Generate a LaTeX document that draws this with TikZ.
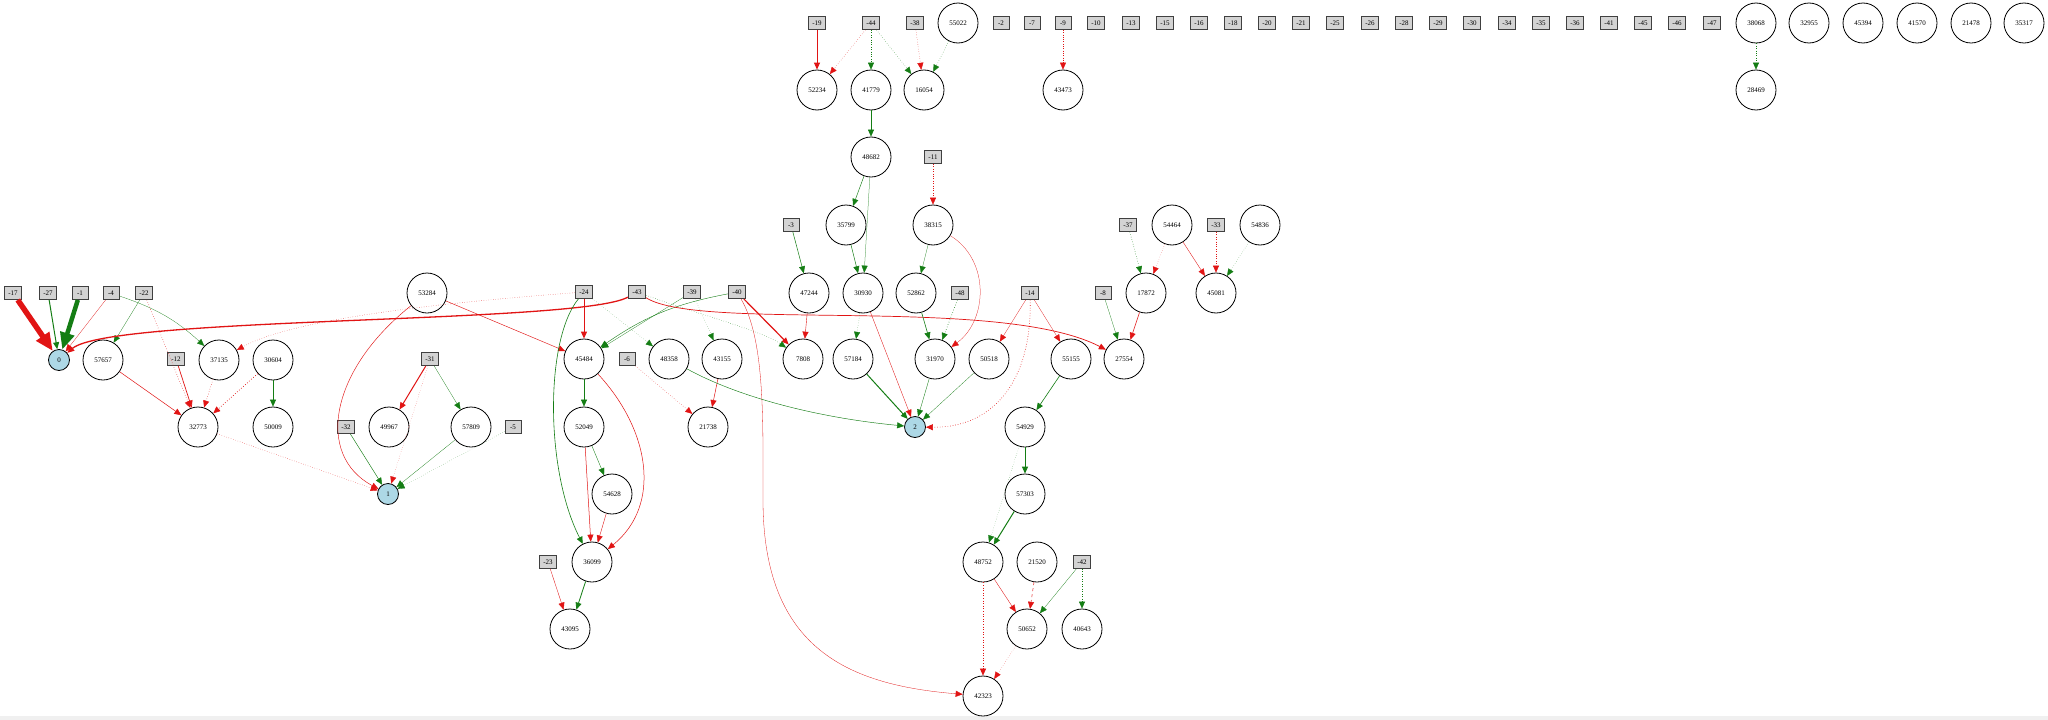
\documentclass[tikz,border=0pt]{standalone}
\usepackage{fontspec}
\setmainfont{Liberation Serif}
\usetikzlibrary{arrows.meta}
\definecolor{eg}{RGB}{20,125,20}
\definecolor{er}{RGB}{225,20,20}
\definecolor{boxgray}{RGB}{211,211,211}
\definecolor{outblue}{RGB}{173,216,230}
\newcommand\nodefont{\fontsize{7}{8}\selectfont}
\tikzset{
  hid/.style={circle,draw,line width=0.8pt,minimum size=40pt,inner sep=0pt,font=\nodefont},
  inp/.style={rectangle,draw=black!75,fill=boxgray,line width=0.9pt,minimum height=13pt,minimum width=16pt,inner xsep=4pt,inner ysep=0pt,font=\nodefont},
  outn/.style={circle,draw,fill=outblue,line width=0.8pt,minimum size=21pt,inner sep=0pt,font=\nodefont},
  ep/.style={draw=eg,-{Triangle[length=7pt,width=6pt,fill=eg]}},
  en/.style={draw=er,-{Triangle[length=7pt,width=6pt,fill=er]}},
  lw/.style={line width=#1pt},
  dis/.style={dotted},
}
\begin{document}
\begin{tikzpicture}[x=1pt,y=-1pt]
\useasboundingbox (0,0) rectangle (2048,720);
\fill[white] (0,0) rectangle (2048,720);
\fill[black!6] (0,716) rectangle (2048,720);
% inputs
\foreach \n/\x/\y in {17/13/293,27/48/293,1/80/293,4/111/293,22/144/293,12/176/359,31/430/359,32/346/427,
  24/584/292,43/637/292,39/692/292,40/737/292,6/627/359,5/513/427,23/548/562,
  19/817/23,44/871/23,38/915/23,2/1001/23,7/1032/23,9/1063/23,10/1096/23,13/1131/23,15/1165/23,16/1199/23,18/1233/23,
  20/1267/23,21/1301/23,25/1335/23,26/1370/23,28/1404/23,29/1438/23,30/1472/23,34/1507/23,35/1541/23,36/1575/23,
  41/1609/23,45/1643/23,46/1677/23,47/1712/23,11/933/157,3/791/225,37/1128/225,33/1216/225,48/960/293,14/1030/293,
  8/1103/293,42/1082/562}
  \node[inp] (m\n) at (\x,\y) {-\n};
% hidden
\foreach \n/\x/\y in {57657/103/360,37135/219/360,30604/273/360,32773/198/427,50009/273/427,53284/427/293,
  49967/389/427,57809/471/427,45484/584/359,48358/669/359,43155/722/359,7808/803/359,47244/809/293,
  52049/584/427,21738/708/427,54628/612/494,36099/592/562,43095/570/629,52234/817/90,41779/871/90,
  16054/924/90,55022/958/23,43473/1063/90,48682/871/157,35799/846/225,38315/933/225,54464/1172/225,
  54836/1260/225,30930/863/293,52862/916/293,17872/1146/293,45081/1216/293,57184/853/359,31970/935/359,
  50518/989/359,55155/1071/359,27554/1124/359,54929/1025/427,57303/1025/494,48752/983/562,21520/1037/562,
  50652/1027/629,40643/1082/629,42323/983/696,38068/1756/23,32955/1809/23,45394/1863/23,41570/1917/23,
  21478/1971/23,35317/2024/23,28469/1756/90}
  \node[hid] (n\n) at (\x,\y) {\n};
% outputs
\node[outn] (o0) at (59,360) {0};
\node[outn] (o1) at (388,494) {1};
\node[outn] (o2) at (915,427) {2};
% edges
\draw[draw=er,lw=5.5,-{Triangle[length=18pt,width=15pt,fill=er]}] (m17) -- (o0);
\draw[draw=eg,lw=4.5,-{Triangle[length=17pt,width=14pt,fill=eg]}] (m1) -- (o0);
\draw[ep,lw=1] (m27) -- (o0);
\draw[en,lw=0.25] (m4) -- (o0);
\draw[ep,lw=0.25] (m4) to[bend left=12] (n37135);
\draw[ep,lw=0.25] (m22) -- (n57657);
\draw[en,lw=0.5,dis] (m22) -- (n32773);
\draw[en,lw=1.3] (m43) .. controls (580,324) and (110,316) .. (o0);
\draw[en,lw=0.4,dis] (m24) .. controls (480,300) and (300,315) .. (n37135);
\draw[en,lw=0.5] (n57657) -- (n32773);
\draw[en,lw=0.7] (m12) -- (n32773);
\draw[en,lw=0.5,dis] (n37135) -- (n32773);
\draw[en,lw=0.7,dis] (n30604) -- (n32773);
\draw[ep,lw=0.6] (n30604) -- (n50009);
\draw[en,lw=0.4,dis] (n32773) -- (o1);
\draw[en,lw=0.45] (n53284) .. controls (330,370) and (315,455) .. (o1);
\draw[en,lw=0.45] (n53284) -- (n45484);
\draw[en,lw=1] (m31) -- (n49967);
\draw[ep,lw=0.25] (m31) -- (n57809);
\draw[en,lw=0.3,dis] (m31) -- (o1);
\draw[ep,lw=0.45] (m32) -- (o1);
\draw[ep,lw=0.25] (n57809) -- (o1);
\draw[ep,lw=0.3,dis] (m5) -- (o1);
\draw[en,lw=1] (m24) -- (n45484);
\draw[ep,lw=0.6] (m24) .. controls (545,340) and (545,470) .. (n36099);
\draw[ep,lw=0.25] (m39) -- (n45484);
\draw[ep,lw=0.4] (m40) to[bend right=12] (n45484);
\draw[ep,lw=0.3,dis] (m39) -- (n43155);
\draw[en,lw=1.2] (m40) -- (n7808);
\draw[en,lw=0.3] (m40) .. controls (765,340) and (763,420) .. (763,500) .. controls (763,650) and (850,685) .. (n42323);
\draw[ep,lw=0.3,dis] (m24) -- (n48358);
\draw[ep,lw=0.4,dis] (m43) .. controls (700,315) and (760,330) .. (n7808);
\draw[en,lw=0.7] (m43) .. controls (700,332) and (1000,295) .. (n27554);
\draw[en,lw=0.4] (n47244) -- (n7808);
\draw[ep,lw=0.5] (m3) -- (n47244);
\draw[ep,lw=0.5] (n45484) -- (n52049);
\draw[en,lw=0.5] (n45484) .. controls (650,430) and (662,505) .. (n36099);
\draw[ep,lw=0.35] (n52049) -- (n54628);
\draw[en,lw=0.5] (n52049) -- (n36099);
\draw[en,lw=0.4] (n54628) -- (n36099);
\draw[ep,lw=0.8] (n36099) -- (n43095);
\draw[en,lw=0.35] (m23) -- (n43095);
\draw[en,lw=0.4,dis] (m6) -- (n21738);
\draw[en,lw=0.5] (n43155) -- (n21738);
\draw[ep,lw=0.45] (n48358) .. controls (740,398) and (820,418) .. (o2);
\draw[ep,lw=0.5] (n35799) -- (n30930);
\draw[ep,lw=0.45] (n48682) -- (n35799);
\draw[ep,lw=0.25] (n48682) -- (n30930);
\draw[ep,lw=0.5] (n41779) -- (n48682);
\draw[ep,lw=0.4,dis] (m44) -- (n41779);
\draw[en,lw=0.4,dis] (m44) -- (n52234);
\draw[ep,lw=0.4,dis] (m44) -- (n16054);
\draw[en,lw=0.4,dis] (m38) -- (n16054);
\draw[ep,lw=0.4,dis] (n55022) -- (n16054);
\draw[en,lw=0.8] (m19) -- (n52234);
\draw[en,lw=0.3,dis] (m9) -- (n43473);
\draw[ep,lw=0.4,dis] (n38068) -- (n28469);
\draw[en,lw=0.4,dis] (m11) -- (n38315);
\draw[ep,lw=0.25] (n38315) -- (n52862);
\draw[en,lw=0.25] (n38315) .. controls (990,260) and (988,320) .. (n31970);
\draw[ep,lw=0.6] (n52862) -- (n31970);
\draw[ep,lw=0.6,dis] (m48) -- (n31970);
\draw[ep,lw=0.4,dis] (n30930) -- (n57184);
\draw[en,lw=0.35] (n30930) -- (o2);
\draw[ep,lw=1] (n57184) -- (o2);
\draw[ep,lw=0.35] (n31970) -- (o2);
\draw[ep,lw=0.25] (n50518) -- (o2);
\draw[en,lw=0.6,dis] (m14) .. controls (1032,385) and (990,428) .. (o2);
\draw[en,lw=0.25] (m14) -- (n50518);
\draw[en,lw=0.25] (m14) -- (n55155);
\draw[ep,lw=0.6] (n55155) -- (n54929);
\draw[ep,lw=0.8] (n54929) -- (n57303);
\draw[ep,lw=0.3,dis] (n54929) -- (n48752);
\draw[ep,lw=1] (n57303) -- (n48752);
\draw[en,lw=0.35] (n48752) -- (n50652);
\draw[en,lw=0.6,dis] (n48752) -- (n42323);
\draw[en,lw=0.5,dashed] (n21520) -- (n50652);
\draw[ep,lw=0.25] (m42) -- (n50652);
\draw[ep,lw=0.5,dis] (m42) -- (n40643);
\draw[en,lw=0.3,dis] (n50652) -- (n42323);
\draw[ep,lw=0.25] (m8) -- (n27554);
\draw[en,lw=0.6] (n17872) -- (n27554);
\draw[ep,lw=0.5,dis] (m37) -- (n17872);
\draw[en,lw=0.3,dis] (n54464) -- (n17872);
\draw[en,lw=0.35] (n54464) -- (n45081);
\draw[en,lw=0.4,dis] (m33) -- (n45081);
\draw[ep,lw=0.3,dis] (n54836) -- (n45081);
\end{tikzpicture}
\end{document}
